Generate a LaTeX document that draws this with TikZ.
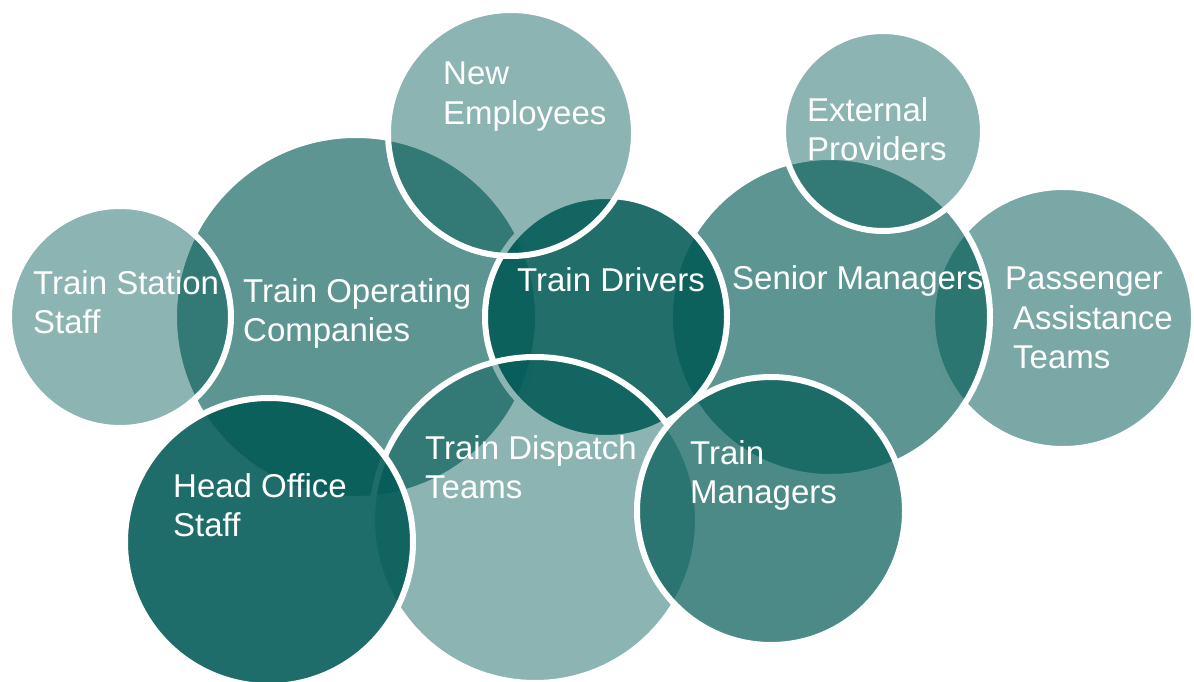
\documentclass[tikz,border=0pt]{standalone}
\usepackage{fontspec}
\setmainfont{Liberation Sans}
\definecolor{vennbase}{RGB}{0,89,85}
\begin{document}
\begin{tikzpicture}[x=1pt,y=-1pt,
  venn/.style={circle, inner sep=0pt, draw=white, line width=6pt, fill=vennbase, minimum size=#1},
  lbl/.style={anchor=north west, inner sep=0pt, align=left, text=white, font=\fontsize{33}{39.5}\selectfont}]
\useasboundingbox (0,0) rectangle (1194,682);
% circles, bottom to top
\node[venn=262pt, fill opacity=0.52] (pat) at (1063,318) {};
\node[venn=320pt, fill opacity=0.64] (sm)  at (830,317) {};
\node[venn=200pt, fill opacity=0.45] (ep)  at (883,131) {};
\node[venn=364pt, fill opacity=0.64] (toc) at (356,317) {};
\node[venn=222pt, fill opacity=0.45] (tss) at (120,317) {};
\node[venn=242pt, fill opacity=0.87] (td)  at (606,317) {};
\node[venn=246pt, fill opacity=0.45] (ne)  at (511,133) {};
\node[venn=326pt, fill opacity=0.45] (tdt) at (535,520) {};
\node[venn=288pt, fill opacity=0.88] (hos) at (269,542) {};
\node[venn=268pt, fill opacity=0.70] (tm)  at (771,511) {};
% labels
\node[lbl] (tsst) at (33,270) {Train Station\\Staff};
\node[lbl] (toct) at (243,278) {Train Operating\\Companies};
\node[lbl] (net)  at (443,62) {New\\Employees};
\node[lbl] (tdt1) at (517,267) {Train Drivers};
\node[lbl] (ept)  at (807,97) {External\\Providers};
\node[lbl] (smt)  at (732,265) {Senior Managers};
\node[lbl] (patt) at (1005,267) {Passenger\\\hspace*{8pt}Assistance\\\hspace*{8pt}Teams};
\node[lbl] (host) at (173,473) {Head Office\\Staff};
\node[lbl] (tdtt) at (425,435) {Train Dispatch\\Teams};
\node[lbl] (tmt)  at (690,440) {Train\\Managers};
\end{tikzpicture}
\end{document}
